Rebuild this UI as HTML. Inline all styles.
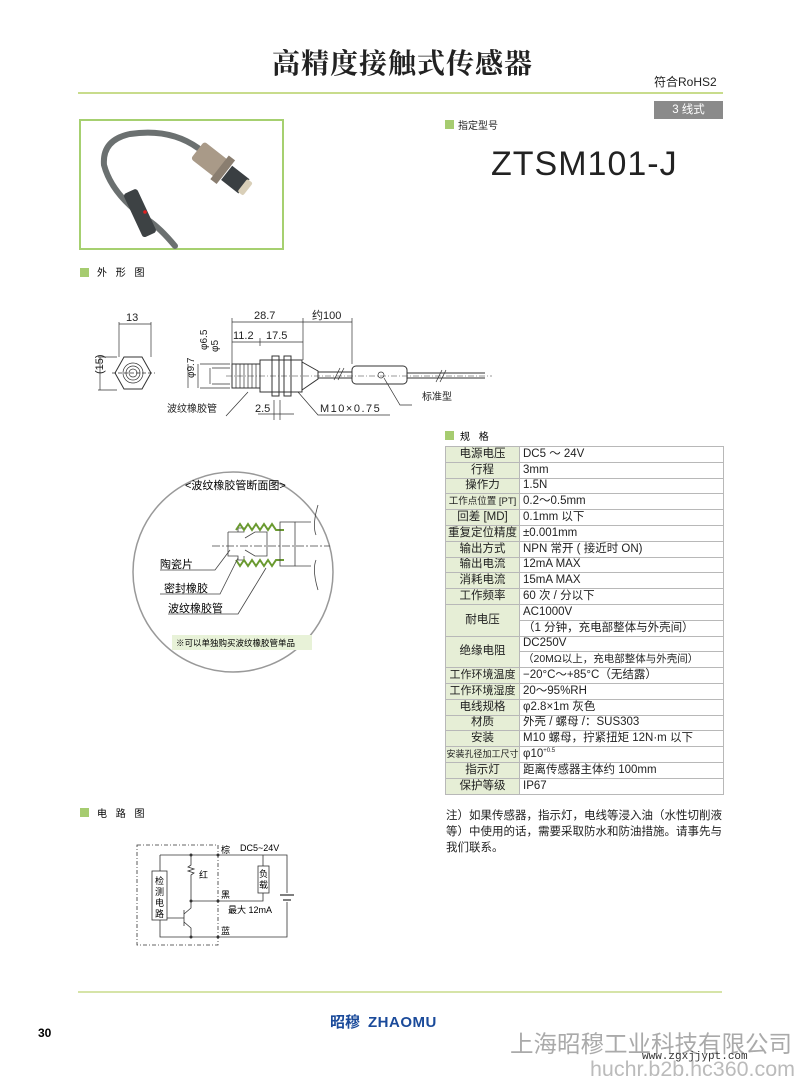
<!DOCTYPE html>
<html><head><meta charset="utf-8"><style>
body{margin:0;background:#fff;}
#p{position:relative;width:800px;height:1077px;overflow:hidden;font-family:"Liberation Sans","Noto Sans CJK SC",sans-serif;color:#222;}
.a{position:absolute;white-space:nowrap;}
table{position:absolute;left:445px;top:446px;width:278px;border-collapse:collapse;font-size:11.5px;table-layout:fixed;}
tr{height:15.8px;}
td{border:1px solid #b8b8b8;padding:0 0 0 3px;line-height:13px;white-space:nowrap;overflow:hidden;}
td.l{background:#e6eed6;text-align:center;padding:0;}
</style></head><body><div id="p">
<div class="a" style="left:272px;top:42px;font-size:28px;font-weight:bold;font-family:'Liberation Serif','Noto Serif CJK SC',serif;letter-spacing:1px;">高精度接触式传感器</div>
<div class="a" style="left:654px;top:73px;font-size:12px;">符合RoHS2</div>
<div class="a" style="left:78px;top:92px;width:645px;height:2px;background:#c8dc8c;"></div>
<div class="a" style="left:654px;top:101px;width:69px;height:18px;background:#8a8a8a;color:#fff;font-size:11.5px;text-align:center;line-height:18px;">3 线式</div>
<div class="a" style="left:445px;top:120px;width:9px;height:9px;background:#a6cc70;"></div>
<div class="a" style="left:458px;top:117px;font-size:10px;">指定型号</div>
<div class="a" style="left:491px;top:145px;font-size:34px;letter-spacing:1px;">ZTSM101-J</div>

<div class="a" style="left:79px;top:119px;width:201px;height:127px;border:2px solid #a6d070;"></div>
<svg class="a" style="left:0;top:0" width="800" height="1077">
<g fill="none" stroke-linecap="round">
<path d="M175 246 Q160 228 148 220 Q112 195 104 165 Q102 140 130 134 Q170 128 198 148" stroke="#6b7070" stroke-width="6"/>
</g>
<g transform="rotate(38 215 165)">
<rect x="192" y="153" width="36" height="22" rx="3" fill="#a99a88"/>
<rect x="220" y="149" width="8" height="30" fill="#8a7e70"/>
<rect x="229" y="155" width="22" height="18" fill="#3a3f42"/>
<rect x="249" y="156" width="7" height="16" rx="2" fill="#d9cfb8"/>
</g>
<g transform="rotate(65 140 212)"><rect x="117" y="205" width="48" height="15" rx="3" fill="#3d4244"/></g>
<circle cx="145" cy="212" r="1.8" fill="#e02020"/>
<rect x="80" y="268" width="9" height="9" fill="#a6cc70"/>
<text x="97" y="276" font-size="10" letter-spacing="3">外 形 图</text>
<rect x="445" y="431" width="9" height="9" fill="#a6cc70"/>
<text x="460" y="440" font-size="10" letter-spacing="3">规 格</text>
<rect x="80" y="808" width="9" height="9" fill="#a6cc70"/>
<text x="97" y="817" font-size="10" letter-spacing="3">电 路 图</text>

<g stroke="#333" stroke-width="0.7" fill="none">
<line x1="119" y1="324" x2="151" y2="324"/><line x1="119" y1="322" x2="119" y2="357"/><line x1="151" y1="322" x2="151" y2="357"/>
<line x1="100" y1="357" x2="100" y2="390"/><line x1="98" y1="357" x2="117" y2="357"/><line x1="98" y1="390" x2="117" y2="390"/>
<polygon points="124,357 142,357 151,373 142,389 124,389 115,373" stroke-width="1"/>
<circle cx="133" cy="373" r="10"/><circle cx="133" cy="373" r="7"/><circle cx="133" cy="373" r="4"/>
<line x1="112" y1="373" x2="155" y2="373" stroke-dasharray="4 2"/>
<rect x="232" y="364" width="28" height="24" stroke-width="1"/>
<path d="M236 364v24M240 364v24M244 364v24M248 364v24M252 364v24M256 364v24"/>
<rect x="260" y="360" width="42" height="32" stroke-width="1"/>
<rect x="272" y="356" width="7" height="40" stroke-width="1"/><rect x="284" y="356" width="7" height="40" stroke-width="1"/>
<path d="M302 362 L318 371 L318 379 L302 390" stroke-width="1"/>
<path d="M318 372 H352 M318 378 H352 M407 373 H485 M407 378 H485" stroke-width="1"/>
<rect x="352" y="366" width="55" height="18" rx="4" stroke-width="1"/>
<circle cx="381" cy="375" r="3"/>
<path d="M334 380 l6 -12 M338 380 l6 -12 M436 382 l6 -12 M440 382 l6 -12"/>
<line x1="226" y1="376" x2="492" y2="376" stroke-dasharray="6 2 1 2" stroke-width="0.5"/>
<line x1="232" y1="322" x2="352" y2="322"/><line x1="232" y1="342" x2="303" y2="342"/>
<line x1="232" y1="318" x2="232" y2="364"/><line x1="303" y1="318" x2="303" y2="360"/><line x1="352" y1="318" x2="352" y2="364"/><line x1="260" y1="338" x2="260" y2="346"/>
<line x1="200" y1="364" x2="230" y2="364"/><line x1="200" y1="388" x2="230" y2="388"/><line x1="212" y1="368" x2="230" y2="368"/><line x1="212" y1="384" x2="230" y2="384"/>
<line x1="198" y1="364" x2="198" y2="388"/><line x1="210" y1="368" x2="210" y2="384"/><line x1="188" y1="364" x2="188" y2="388"/>
<line x1="274" y1="400" x2="274" y2="420"/><line x1="280" y1="400" x2="280" y2="420"/><line x1="258" y1="414" x2="294" y2="414"/>
<path d="M226 416 L248 392"/><path d="M390 415 H318 L298 392"/><path d="M412 405 H400 L384 378"/>
</g>
<g font-size="11" fill="#222">
<text x="126" y="321">13</text>
<text x="92" y="385" transform="rotate(-90 92 374)" >(15)</text>
<text x="254" y="319">28.7</text><text x="312" y="319">约100</text>
<text x="233" y="339">11.2</text><text x="266" y="339">17.5</text>
<text x="195" y="362" transform="rotate(-90 195 350)" font-size="10">φ6.5</text>
<text x="208" y="362" transform="rotate(-90 208 352)" font-size="10">φ5</text>
<text x="184" y="388" transform="rotate(-90 184 378)" font-size="10">φ9.7</text>
<text x="255" y="412">2.5</text>
<text x="320" y="412" letter-spacing="1.5">M10×0.75</text>
<text x="167" y="412" font-size="10">波纹橡胶管</text>
<text x="422" y="400" font-size="10">标准型</text>
</g>

<circle cx="233" cy="572" r="100" fill="#fff" stroke="#999" stroke-width="1.5"/>
<text x="185" y="489" font-size="11">&lt;波纹橡胶管断面图&gt;</text>
<g stroke="#444" stroke-width="0.8" fill="none">
<path d="M228 532 h10 v-4 h6 v4 h-6 M228 532 v24 h10 v4 h6 v-4"/>
<path d="M236 530 l4 -6 l4 6 l4 -6 l4 6 l4 -6 l4 6 l4 -6 l4 6 l4 -6 l4 6 h8" stroke="#6a9a30" stroke-width="2"/>
<path d="M236 560 l4 6 l4 -6 l4 6 l4 -6 l4 6 l4 -6 l4 6 l4 -6 l4 6 l4 -6 h8" stroke="#6a9a30" stroke-width="2"/>
<path d="M245 538 l10 -6 h12 v24 h-12 l-10 -6"/>
<rect x="280" y="522" width="15" height="44"/>
<path d="M295 522 h16 M295 566 h16 M318 505 q-6 20 -2 30 M318 590 q-6 -20 -2 -30"/>
<line x1="212" y1="546" x2="330" y2="546" stroke-dasharray="8 2 2 2"/>
<path d="M160 570 h55 l15 -20 M160 594 h60 l18 -36 M168 614 h70 l28 -46"/>
</g>
<text x="160" y="568" font-size="11">陶瓷片</text>
<text x="164" y="592" font-size="11">密封橡胶</text>
<text x="168" y="612" font-size="11">波纹橡胶管</text>
<rect x="172" y="635" width="140" height="15" fill="#e8f2d8"/>
<text x="176" y="646" font-size="8.5">※可以单独购买波纹橡胶管单品</text>

<g stroke="#333" stroke-width="0.8" fill="none">
<rect x="137" y="845" width="81" height="100" stroke-dasharray="4 2 1 2"/>
<path d="M160 855 H287 V893 M287 902 V937 H160 V920 M160 855 V871"/>
<rect x="152" y="871" width="15" height="49" fill="#fff"/>
<path d="M191 855 V865 l-3 2 l6 2 l-6 2 l6 2 l-3 2 V901 H263 V893 M263 866 V855"/>
<rect x="258" y="866" width="11" height="27" fill="#fff"/>
<path d="M167 918 H184 M184 910 V926 M191 901 V908 L184 914 M184 922 L191 928 V937"/>
</g>
<path d="M280 895 h14 M283 900 h8" stroke="#333" stroke-width="1.3"/>
<circle cx="191" cy="855" r="1.5" fill="#333"/><circle cx="191" cy="901" r="1.5" fill="#333"/><circle cx="191" cy="937" r="1.5" fill="#333"/>
<circle cx="218" cy="855" r="1.5" fill="#333"/><circle cx="218" cy="901" r="1.5" fill="#333"/><circle cx="218" cy="937" r="1.5" fill="#333"/>
<g font-size="9">
<text x="221" y="853">棕</text><text x="240" y="851">DC5~24V</text><text x="199" y="878">红</text>
<text x="221" y="898">黑</text><text x="228" y="913">最大 12mA</text><text x="221" y="934">蓝</text>
<text x="155" y="884">检</text><text x="155" y="895">测</text><text x="155" y="906">电</text><text x="155" y="917">路</text>
<text x="259" y="877">负</text><text x="259" y="888">载</text>
</g>

<line x1="78" y1="992" x2="722" y2="992" stroke="#c8dc8c" stroke-width="1.5"/>
<text x="330" y="1027" font-size="15" fill="#1a4a9a" font-weight="bold">昭穆</text>
<text x="368" y="1027" font-size="15" fill="#1a4a9a" font-weight="bold" letter-spacing="0.5">ZHAOMU</text>
<text x="38" y="1037" font-size="12" font-weight="bold">30</text>
<text x="510" y="1052" font-size="23.5" fill="#aaa">上海昭穆工业科技有限公司</text>
<text x="590" y="1076" font-size="21" fill="#bbb" textLength="205" lengthAdjust="spacingAndGlyphs">huchr.b2b.hc360.com</text>
<text x="642" y="1059" font-size="11" fill="#333" font-family="Liberation Mono,monospace">www.zgxjjypt.com</text>
</svg>

<table>
<colgroup><col style="width:74px"><col style="width:204px"></colgroup>
<tr><td class="l">电源电压</td><td>DC5 ～ 24V</td></tr>
<tr><td class="l">行程</td><td>3mm</td></tr>
<tr><td class="l">操作力</td><td>1.5N</td></tr>
<tr><td class="l" style="font-size:9.5px">工作点位置 [PT]</td><td>0.2～0.5mm</td></tr>
<tr><td class="l">回差 [MD]</td><td>0.1mm 以下</td></tr>
<tr><td class="l">重复定位精度</td><td>±0.001mm</td></tr>
<tr><td class="l">输出方式</td><td>NPN 常开 ( 接近时 ON)</td></tr>
<tr><td class="l">输出电流</td><td>12mA MAX</td></tr>
<tr><td class="l">消耗电流</td><td>15mA MAX</td></tr>
<tr><td class="l">工作频率</td><td>60 次 / 分以下</td></tr>
<tr><td class="l" rowspan="2">耐电压</td><td>AC1000V</td></tr>
<tr><td>（1 分钟，充电部整体与外壳间）</td></tr>
<tr><td class="l" rowspan="2">绝缘电阻</td><td>DC250V</td></tr>
<tr><td style="font-size:10.5px">（20MΩ以上，充电部整体与外壳间）</td></tr>
<tr><td class="l" style="font-size:11px">工作环境温度</td><td>−20°C～+85°C（无结露）</td></tr>
<tr><td class="l" style="font-size:11px">工作环境湿度</td><td>20～95%RH</td></tr>
<tr><td class="l">电线规格</td><td>φ2.8×1m 灰色</td></tr>
<tr><td class="l">材质</td><td>外壳 / 螺母 /：SUS303</td></tr>
<tr><td class="l">安装</td><td>M10 螺母，拧紧扭矩 12N·m 以下</td></tr>
<tr><td class="l" style="font-size:9px">安装孔径加工尺寸</td><td>φ10<sup style="font-size:6px;line-height:0">+0.5</sup></td></tr>
<tr><td class="l">指示灯</td><td>距离传感器主体约 100mm</td></tr>
<tr><td class="l">保护等级</td><td>IP67</td></tr>
</table>

<div class="a" style="left:446px;top:808px;width:280px;font-size:11.5px;line-height:16px;white-space:normal;">注）如果传感器，指示灯，电线等浸入油（水性切削液等）中使用的话，需要采取防水和防油措施。请事先与我们联系。</div>
</div></body></html>
